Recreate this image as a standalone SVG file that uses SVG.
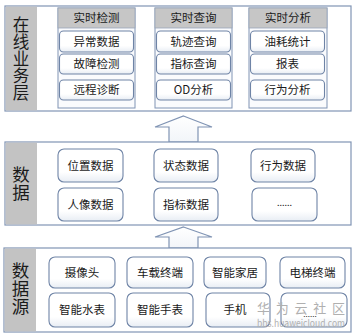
<svg xmlns="http://www.w3.org/2000/svg" width="355" height="336" viewBox="0 0 355 336">
<defs>
<linearGradient id="itemg" x1="0" y1="0" x2="0" y2="1">
<stop offset="0" stop-color="#ffffff"/>
<stop offset="0.7" stop-color="#ffffff"/>
<stop offset="1" stop-color="#e8edf4"/>
</linearGradient>
<linearGradient id="arrowg" x1="0" y1="0" x2="0" y2="1">
<stop offset="0" stop-color="#ffffff"/>
<stop offset="1" stop-color="#f2f5f9"/>
</linearGradient>
</defs>
<style>
.panel{fill:#ffffff;stroke:#8094b4;stroke-width:1.2}
.side{fill:#c3c3c3}
.col{fill:#fafbfd;stroke:#8094b4;stroke-width:1}
.hdr{fill:#c6c6c6;stroke:#9aa6b8;stroke-width:0.8}
.item{fill:url(#itemg);stroke:#6f84a6;stroke-width:1.1}
.t{font-family:"Noto Sans CJK SC","Noto Sans",sans-serif;font-size:11.5px;fill:#1a1a1a;text-anchor:middle}
.big{font-family:"Noto Sans CJK SC","Noto Sans",sans-serif;font-size:17px;fill:#1a1a1a;text-anchor:middle;writing-mode:vertical-rl;glyph-orientation-vertical:0}
.arrow{fill:url(#arrowg);stroke:#8094b4;stroke-width:1.2}
.wm{font-family:"Noto Sans CJK SC","Noto Sans",sans-serif;fill:#b0b0b0}
</style>

<g id="layer-online">
<rect class="panel" x="5" y="6" width="346" height="105"/>
<rect class="side" x="5.6" y="6.6" width="31.4" height="103.8"/>
<text class="big" x="21" y="59" style="font-size:16.5px;letter-spacing:0.5px">在线业务层</text>
</g>

<g id="col-detect">
<rect class="col" x="58" y="8" width="77" height="100"/>
<rect class="hdr" x="58" y="8" width="77" height="20"/>
<text class="t" x="96.5" y="22">实时检测</text>
<rect class="item" x="59.5" y="31" width="74" height="21" rx="4"/>
<text class="t" x="96.5" y="45.5">异常数据</text>
<rect class="item" x="59.5" y="54" width="74" height="20" rx="4"/>
<text class="t" x="96.5" y="68">故障检测</text>
<rect class="item" x="59.5" y="80" width="74" height="20" rx="4"/>
<text class="t" x="96.5" y="94">远程诊断</text>
</g>

<g id="col-query">
<rect class="col" x="155" y="8" width="77" height="100"/>
<rect class="hdr" x="155" y="8" width="77" height="20"/>
<text class="t" x="193.5" y="22">实时查询</text>
<rect class="item" x="156.5" y="31" width="74" height="21" rx="4"/>
<text class="t" x="193.5" y="45.5">轨迹查询</text>
<rect class="item" x="156.5" y="54" width="74" height="20" rx="4"/>
<text class="t" x="193.5" y="68">指标查询</text>
<rect class="item" x="156.5" y="80" width="74" height="20" rx="4"/>
<text class="t" x="193.5" y="94">OD分析</text>
</g>

<g id="col-analysis">
<rect class="col" x="249" y="8" width="78" height="100"/>
<rect class="hdr" x="249" y="8" width="78" height="20"/>
<text class="t" x="288" y="22">实时分析</text>
<rect class="item" x="250.5" y="31" width="74" height="21" rx="4"/>
<text class="t" x="287.5" y="45.5">油耗统计</text>
<rect class="item" x="250.5" y="54" width="74" height="20" rx="4"/>
<text class="t" x="287.5" y="68">报表</text>
<rect class="item" x="250.5" y="80" width="74" height="20" rx="4"/>
<text class="t" x="287.5" y="94">行为分析</text>
</g>

<g id="connectors">
<path class="arrow" d="M183.5,116 L212,127 L198,127 L198,142 L169,142 L169,127 L155,127 Z"/>
<path class="arrow" d="M183.5,227 L212,237 L198,237 L198,248 L169,248 L169,237 L155,237 Z"/>
</g>

<g id="layer-data">
<rect class="panel" x="5" y="142" width="346" height="83"/>
<rect class="side" x="5.6" y="142.6" width="31.4" height="81.8"/>
<text class="big" x="21" y="184" style="font-size:17.5px;letter-spacing:0.5px">数据</text>
</g>

<g id="data-boxes">
<rect class="item" x="58" y="149" width="65" height="33" rx="6"/>
<text class="t" x="90.5" y="169.5">位置数据</text>
<rect class="item" x="58" y="188" width="65" height="33" rx="6"/>
<text class="t" x="90.5" y="208.5">人像数据</text>
<rect class="item" x="154" y="149" width="64" height="33" rx="6"/>
<text class="t" x="186" y="169.5">状态数据</text>
<rect class="item" x="154" y="188" width="64" height="33" rx="6"/>
<text class="t" x="186" y="208.5">指标数据</text>
<rect class="item" x="251" y="149" width="64" height="33" rx="6"/>
<text class="t" x="283" y="169.5">行为数据</text>
<rect class="item" x="252" y="188" width="65" height="33" rx="6"/>
<text class="t" x="284.5" y="206" style="font-size:9px">......</text>
</g>

<g id="layer-source">
<rect class="panel" x="4" y="248" width="347" height="84"/>
<rect class="side" x="4.6" y="248.6" width="31.4" height="82.8"/>
<text class="big" x="20.5" y="289" style="font-size:17.5px;letter-spacing:0.5px">数据源</text>
</g>

<g id="source-boxes">
<rect class="item" x="49" y="257" width="66" height="31" rx="6"/>
<text class="t" x="82" y="276.5">摄像头</text>
<rect class="item" x="49" y="293" width="66" height="34" rx="6"/>
<text class="t" x="82" y="314">智能水表</text>
<rect class="item" x="127" y="257" width="66" height="31" rx="6"/>
<text class="t" x="160" y="276.5">车载终端</text>
<rect class="item" x="127" y="293" width="66" height="34" rx="6"/>
<text class="t" x="160" y="314">智能手表</text>
<rect class="item" x="204" y="257" width="62" height="31" rx="6"/>
<text class="t" x="235" y="276.5">智能家居</text>
<rect class="item" x="206" y="293" width="64" height="34" rx="6"/>
<text class="t" x="235" y="314">手机</text>
<rect class="item" x="280" y="257" width="65" height="31" rx="6"/>
<text class="t" x="312.5" y="276.5">电梯终端</text>
<rect class="item" x="281" y="293" width="66" height="34" rx="6"/>
<text class="t" x="310" y="317" style="font-size:8px">......</text>
</g>

<g id="watermark">
<text class="wm" x="257" y="313" style="font-size:13px" textLength="88" lengthAdjust="spacing">华为云社区</text>
<text class="wm" x="257" y="327" style="font-size:10px" textLength="88" lengthAdjust="spacingAndGlyphs">bbs.huaweicloud.com</text>
</g>
</svg>
